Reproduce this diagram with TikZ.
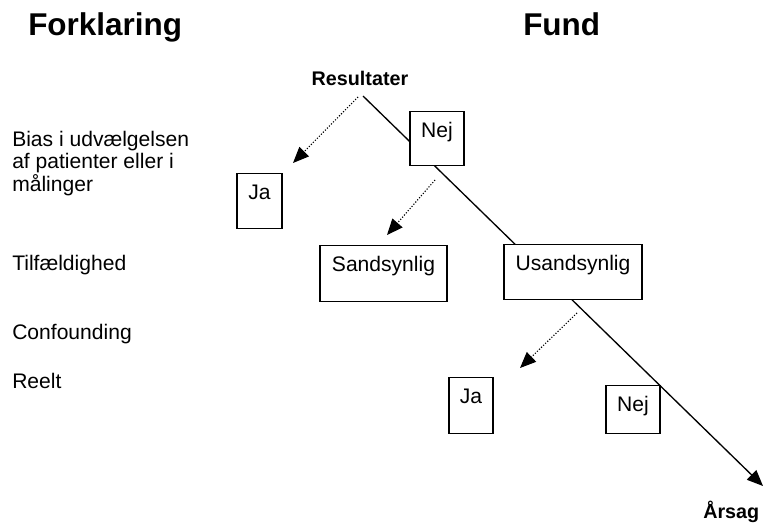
\documentclass[tikz,border=0pt]{standalone}
\usepackage{fontspec}
\setmainfont{Liberation Sans}
\usetikzlibrary{arrows.meta,backgrounds}
\newcommand{\tekst}{\fontsize{15.8}{16.7}\selectfont}
\newcommand{\overskrift}{\fontsize{23.6}{28}\selectfont\bfseries}
\newcommand{\fed}{\fontsize{14.8}{18}\selectfont\bfseries}

\begin{document}
\begin{tikzpicture}[x=0.75pt,y=-0.75pt,
	txt/.style={inner sep=0pt,anchor=base west},
	boks/.style={draw,fill=white,line width=1pt,inner sep=0pt,text height=19.5pt,anchor=north,font=\tekst},
	pil/.style={-{Triangle[length=12pt,width=10pt]},line width=1pt},
	prik/.style={-{Triangle[length=12pt,width=10pt]},line width=0.85pt,dash pattern=on 0.85pt off 1.3pt}]
\useasboundingbox (0,0) rectangle (764,525);
\node[txt,font=\overskrift] (forkl) at (28,35) {Forklaring};
\node[txt,font=\overskrift] (fund) at (523,35) {Fund};
\node[txt,font=\fed,anchor=base] (res) at (360,85) {Resultater};
\node[txt,font=\fed] (aarsag) at (703,518) {Årsag};
% forklaringer
\node[txt,font=\tekst,anchor=north west,align=left] (bias) at (12,131) {Bias i udvælgelsen\\af patienter eller i\\målinger};
\node[txt,font=\tekst] (tilf) at (12,270) {Tilfældighed};
\node[txt,font=\tekst] (conf) at (12,339) {Confounding};
\node[txt,font=\tekst] (reel) at (12,388) {Reelt};
% fund
\node[boks,minimum width=40.5pt,text depth=21pt] (nej1) at (437,111) {Nej};
\node[boks,minimum width=33.75pt,text depth=21.75pt] (ja1) at (259.5,173) {Ja};
\node[boks,minimum width=95.25pt,text depth=22.5pt] (sand) at (383.5,245) {Sandsynlig};
\node[boks,minimum width=103.5pt,text depth=21.75pt] (usand) at (573,244) {Usandsynlig};
\node[boks,minimum width=33pt,text depth=22.5pt] (ja2) at (471,377) {Ja};
\node[boks,minimum width=40.5pt,text depth=16.5pt] (nej2) at (633,385) {Nej};
\coordinate (start) at (363,96);
\coordinate (slut) at (763,486);
\coordinate (p1) at (358,97);
\coordinate (p1b) at (293,163);
\coordinate (p2) at (435,180);
\coordinate (p2b) at (387,235);
\coordinate (p3) at (577,313);
\coordinate (p3b) at (520,368);
\begin{scope}[on background layer]
	\draw[pil] (start) -- (slut);
\end{scope}
\draw[prik] (p1) -- (p1b);
\draw[prik] (p2) -- (p2b);
\draw[prik] (p3) -- (p3b);
\end{tikzpicture}
\end{document}
